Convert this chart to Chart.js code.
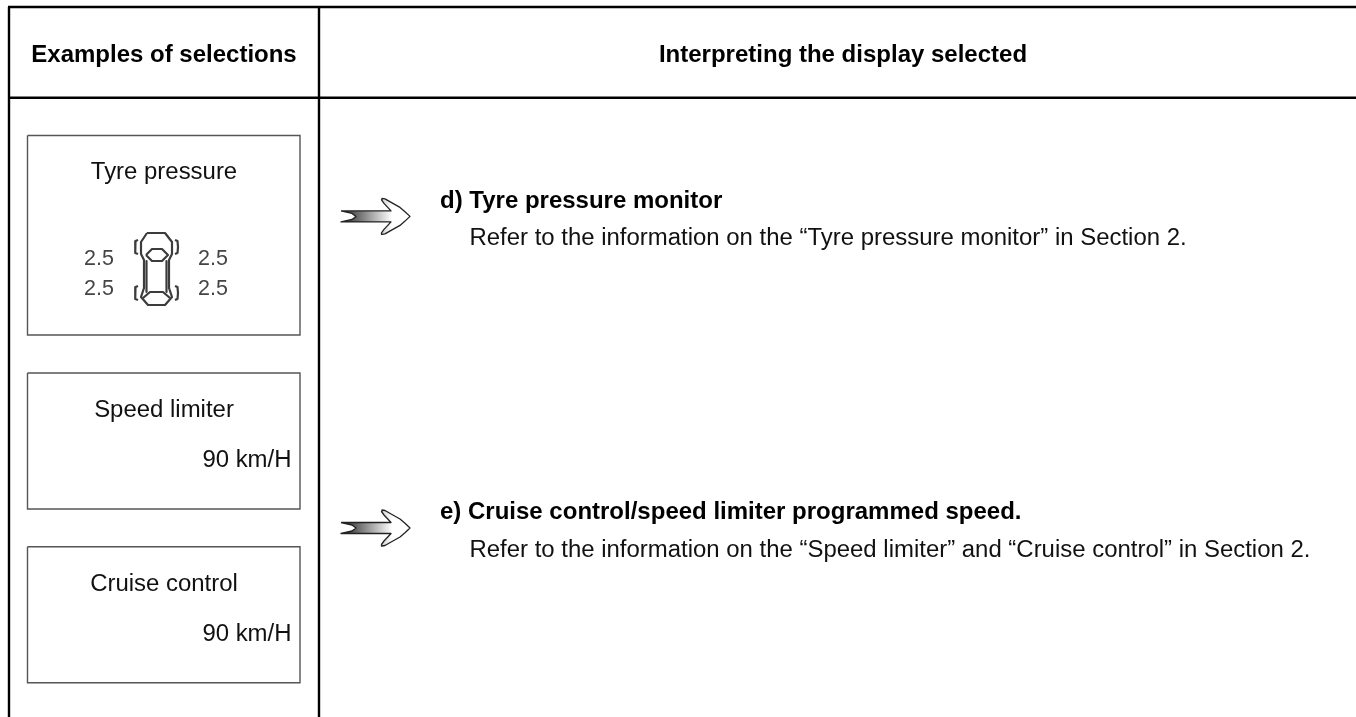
<!DOCTYPE html>
<html>
<head>
<meta charset="utf-8">
<title>Examples of selections</title>
<script src="https://cdn.jsdelivr.net/npm/chart.js@4"></script>
<style>
  html, body { margin: 0; padding: 0; background: #fff; overflow: hidden; }
  #sheet { display: block; }
</style>
</head>
<body>
<canvas id="sheet" width="1356" height="717"></canvas>
<script>
// Table text
const columnHeaders = ["Examples of selections", "Interpreting the display selected"];
const panelTitles = ["Tyre pressure", "Speed limiter", "Cruise control"];
const programmedSpeeds = ["90 km/H", "90 km/H"];
const tyrePressures = [2.5, 2.5, 2.5, 2.5];
const entryTitles = ["d) Tyre pressure monitor", "e) Cruise control/speed limiter programmed speed."];
const entryNotes = [
    "Refer to the information on the \u201cTyre pressure monitor\u201d in Section 2.",
    "Refer to the information on the \u201cSpeed limiter\u201d and \u201cCruise control\u201d in Section 2."
];

// Table rules, on the page scale
const ruleRows = [7, 97.7];
const ruleColumns = [9, 319];
const pageBottom = 717;
const pageRight = 1356;

// Panels: left, right, top, bottom
const panelLeft = 27.5;
const panelRight = 300;
const panelTops = [135.5, 373, 546.7];
const panelBottoms = [335, 509, 682.7];

// Text anchors
const headerAnchors = [[164, 61.5], [843, 61.5]];
const panelTitleAnchors = [[164, 178.5], [164, 417], [164, 591]];
const speedAnchors = [[291.5, 467], [291.5, 641]];
const pressureAnchors = [[99, 265], [213, 265], [99, 295], [213, 295]];
const entryTitleAnchors = [[440, 207.5], [440, 518.7]];
const entryNoteAnchors = [[469.5, 245], [469.5, 557]];

// Car icon outlines
const carBody = [[147,233],[165,233],[172,242],[172,254],[169,260],[169,288],[172,297],[165,305],[148,305],[141,297],[144,288],[144,260],[141,254],[141,242],[147,233]];
const carWindscreen = [[146,255],[152,249],[162,249],[168,255],[162,261],[152,261],[146,255]];
const carRearWindow = [[143,298],[150,292],[163,292],[170,298]];
const carSideLeft = [[146.5,261],[146.5,292]];
const carSideRight = [[166.5,261],[166.5,292]];
const wheelBrackets = [
    [[138,240],[135.5,241],[135,247],[135.5,253],[138,254]],
    [[175,240],[177.5,241],[178,247],[177.5,253],[175,254]],
    [[138,286],[135.5,287],[135,293],[135.5,299],[138,300]],
    [[175,286],[177.5,287],[178,293],[177.5,299],[175,300]]
];

// Arrow outline, drawn once per row around its centre line
const arrowRows = [216.4, 528];
const arrowOutline = [[341,-5.5],[391,-5.5],[384,-13],[381.5,-16.5],[382,-18],[385,-17.5],[392,-13.5],[400,-9],[405,-4.7],[410,0],[405,4.7],[400,9],[392,13.5],[385,17.5],[382,18],[381.5,16.5],[384,13],[391,5.5],[341,5.5],[352,3],[356,0],[352,-3],[341,-5.5]];
const arrowShade = [345, 392];

function toPoints(list) {
    return list.map(p => ({ x: p[0], y: p[1] }));
}

function lineSet(points, color, width) {
    return { data: toPoints(points), borderColor: color, borderWidth: width, fill: false };
}

const datasets = [];

ruleRows.forEach((y, i) => {
    datasets.push(lineSet([[i === 0 ? ruleColumns[0] - 1 : ruleColumns[0], y], [pageRight, y]], "#000", 2.6));
});
ruleColumns.forEach(x => {
    datasets.push(lineSet([[x, ruleRows[0]], [x, pageBottom]], "#000", 2.4));
});
panelTops.forEach((top, i) => {
    const bottom = panelBottoms[i];
    datasets.push(lineSet([[panelLeft, top], [panelRight, top], [panelRight, bottom], [panelLeft, bottom], [panelLeft, top]], "#555", 1.4));
});
[carBody, carWindscreen, carRearWindow, carSideLeft, carSideRight].forEach(part => {
    datasets.push(Object.assign(lineSet(part, "#3c3c3c", 2.2), { borderJoinStyle: "round" }));
});
wheelBrackets.forEach(part => {
    datasets.push(Object.assign(lineSet(part, "#3c3c3c", 2.2), { borderJoinStyle: "round" }));
});

arrowRows.forEach(row => {
    datasets.push({
        data: toPoints(arrowOutline.map(p => [p[0], row + p[1]])),
        borderColor: "#222",
        borderWidth: 1.3,
        borderJoinStyle: "round",
        fill: "shape",
        backgroundColor: function (context) {
            const xScale = context.chart.scales.x;
            const x0 = xScale ? xScale.getPixelForValue(arrowShade[0]) : NaN;
            const x1 = xScale ? xScale.getPixelForValue(arrowShade[1]) : NaN;
            if (!isFinite(x0) || !isFinite(x1)) return "#888";
            const shade = context.chart.ctx.createLinearGradient(x0, 0, x1, 0);
            shade.addColorStop(0, "#333");
            shade.addColorStop(1, "#fff");
            return shade;
        }
    });
});

// Writes the table text through the page scales
const tableText = {
    id: "tableText",
    afterDatasetsDraw(chart) {
        const { ctx, scales } = chart;
        function put(text, anchor, font, align, color) {
            ctx.font = font;
            ctx.textAlign = align;
            ctx.textBaseline = "alphabetic";
            ctx.fillStyle = color;
            ctx.fillText(text, scales.x.getPixelForValue(anchor[0]), scales.y.getPixelForValue(anchor[1]));
        }
        const bold = 'bold 24px "Liberation Sans"';
        const plain = '23.94px "Liberation Sans"';
        ctx.save();
        columnHeaders.forEach((t, i) => put(t, headerAnchors[i], bold, "center", "#000"));
        panelTitles.forEach((t, i) => put(t, panelTitleAnchors[i], plain, "center", "#111"));
        programmedSpeeds.forEach((t, i) => put(t, speedAnchors[i], plain, "right", "#111"));
        tyrePressures.forEach((v, i) => put(v.toFixed(1), pressureAnchors[i], '21.5px "Liberation Sans"', "center", "#444"));
        entryTitles.forEach((t, i) => put(t, entryTitleAnchors[i], bold, "left", "#000"));
        entryNotes.forEach((t, i) => put(t, entryNoteAnchors[i], plain, "left", "#111"));
        ctx.restore();
    }
};

new Chart(document.getElementById("sheet"), {
    type: "scatter",
    data: { datasets: datasets },
    options: {
        responsive: false,
        animation: false,
        layout: { padding: 0 },
        showLine: true,
        elements: { point: { radius: 0 }, line: { tension: 0, borderJoinStyle: "miter" } },
        plugins: { legend: { display: false }, title: { display: false }, tooltip: { enabled: false } },
        scales: {
            x: { type: "linear", display: false, min: 0, max: pageRight },
            y: { type: "linear", display: false, min: 0, max: pageBottom, reverse: true }
        }
    },
    plugins: [tableText]
});
</script>
</body>
</html>
